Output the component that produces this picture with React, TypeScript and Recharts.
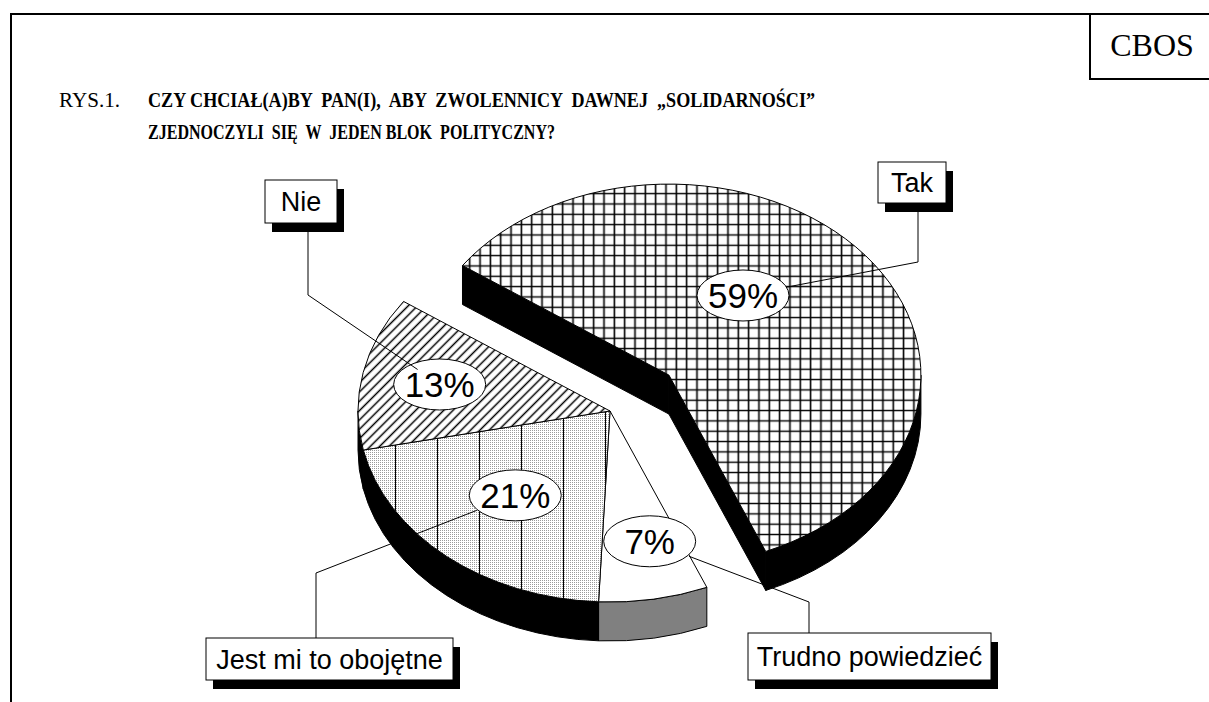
import { PieChart, Pie } from 'recharts';

// survey answers, clockwise from the upper-left edge of "Tak"
const categories = ['Tak', 'Trudno powiedzieć', 'Jest mi to obojętne', 'Nie'];
const shares = [59, 7, 21, 13];

const data = categories.map((name, i) => ({ name, value: shares[i] }));

const W = 1209;
const H = 702;
const SQUASH = 0.758; // ellipse height / width for the tilted pie
const DEPTH = 39; // thickness of the 3d pie

const explode: Record<string, number> = { Tak: 0.3 };

const topFill: Record<string, string> = {
  Tak: 'url(#grid)',
  'Trudno powiedzieć': '#ffffff',
  'Jest mi to obojętne': 'url(#dots)',
  Nie: 'url(#hatch)',
};

const sideFill: Record<string, string> = {
  Tak: '#000000',
  'Trudno powiedzieć': '#808080',
  'Jest mi to obojętne': '#000000',
  Nie: '#000000',
};

// where the percent bubble sits inside a slice (fraction of radius, angle shift)
const labelPlace: Record<string, { r: number; shift: number }> = {
  Tak: { r: 0.51, shift: 16 },
  'Trudno powiedzieć': { r: 0.7, shift: 3 },
  'Jest mi to obojętne': { r: 0.58, shift: 0 },
  Nie: { r: 0.69, shift: 0 },
};

// callout boxes: [x, y, w, h] and the elbow of the leader line
const callouts: Record<string, { box: number[]; elbow: number[] }> = {
  Tak: { box: [878, 162, 68, 41], elbow: [918, 262] },
  'Trudno powiedzieć': { box: [748, 633, 243, 47], elbow: [809, 602] },
  'Jest mi to obojętne': { box: [206, 638, 247, 42], elbow: [316, 573] },
  Nie: { box: [265, 180, 72, 43], elbow: [308, 295] },
};

const ARIAL = 'Arial, "Liberation Sans", Helvetica, sans-serif';
const TIMES = '"Times New Roman", "Liberation Serif", serif';

const rad = (a: number) => (a * Math.PI) / 180;

type Geom = { name: string; cx: number; cy: number; rx: number; ry: number; a1: number; a2: number; mid: number; ex: number };

function geom(p: any): Geom {
  const name = p.payload?.name ?? p.name;
  const rx = p.outerRadius;
  const ry = p.outerRadius * SQUASH;
  const mid = (p.startAngle + p.endAngle) / 2;
  const ex = explode[name] ?? 0;
  return {
    name,
    rx,
    ry,
    mid,
    ex,
    cx: p.cx + ex * rx * Math.cos(rad(mid)),
    cy: p.cy - ex * ry * Math.sin(rad(mid)),
    a1: Math.max(p.startAngle, p.endAngle),
    a2: Math.min(p.startAngle, p.endAngle),
  };
}

const at = (g: Geom, a: number, dy = 0) => [g.cx + g.rx * Math.cos(rad(a)), g.cy - g.ry * Math.sin(rad(a)) + dy];

// arc from angle a down to b (clockwise on screen)
const arcCw = (g: Geom, a: number, b: number, dy = 0) => {
  const [x, y] = at(g, b, dy);
  return `A ${g.rx} ${g.ry} 0 ${a - b > 180 ? 1 : 0} 1 ${x} ${y}`;
};
const arcCcw = (g: Geom, a: number, b: number, dy = 0) => {
  const [x, y] = at(g, a, dy);
  return `A ${g.rx} ${g.ry} 0 ${a - b > 180 ? 1 : 0} 0 ${x} ${y}`;
};

const renderSide = (p: any) => {
  const g = geom(p);
  const fill = sideFill[g.name];
  const parts: any[] = [];
  if (g.ex > 0) {
    const faces = [];
    if (Math.cos(rad(g.a1)) < 0) faces.push(g.a1);
    if (Math.cos(rad(g.a2)) > 0) faces.push(g.a2);
    faces.forEach((a) => {
      const [x, y] = at(g, a);
      parts.push(
        <path
          key={`f${a}`}
          d={`M ${g.cx} ${g.cy} L ${x} ${y} L ${x} ${y + DEPTH} L ${g.cx} ${g.cy + DEPTH} Z`}
          fill={fill}
          stroke="#000"
          strokeWidth={1}
        />
      );
    });
  }
  for (let k = -2; k <= 1; k++) {
    const lo = -180 + 360 * k;
    const hi = 360 * k;
    const s1 = Math.min(g.a1, hi);
    const s2 = Math.max(g.a2, lo);
    if (s1 - s2 > 0.01) {
      const [x1, y1] = at(g, s1);
      const [x2, y2] = at(g, s2, DEPTH);
      parts.push(
        <path
          key={`s${k}`}
          d={`M ${x1} ${y1} ${arcCw(g, s1, s2)} L ${x2} ${y2} ${arcCcw(g, s1, s2, DEPTH)} Z`}
          fill={fill}
          stroke="#000"
          strokeWidth={1}
        />
      );
    }
  }
  return <g>{parts}</g>;
};

const renderTop = (p: any) => {
  const g = geom(p);
  const [x1, y1] = at(g, g.a1);
  const d = `M ${g.cx} ${g.cy} L ${x1} ${y1} ${arcCw(g, g.a1, g.a2)} Z`;
  return (
    <g>
      <path d={d} fill={topFill[g.name]} stroke="none" />
      {g.name === 'Jest mi to obojętne' && <path d={d} fill="url(#vlines)" stroke="none" />}
      <path d={d} fill="none" stroke="#000" strokeWidth={1} strokeLinejoin="round" />
    </g>
  );
};

const renderNote = (p: any) => {
  const g = geom(p);
  const lp = labelPlace[g.name];
  const la = rad(g.mid + lp.shift);
  const lx = g.cx + lp.r * g.rx * Math.cos(la);
  const ly = g.cy - lp.r * g.ry * Math.sin(la);
  const c = callouts[g.name];
  const [bx, by, bw, bh] = c.box;
  const [ex, ey] = c.elbow;
  const edgeY = ey > by + bh ? by + bh : by;
  // leader stops at the text of the bubble
  const dx = ex - lx;
  const dy = ey - ly;
  const t = Math.min(44 / Math.abs(dx || 1e-6), 15 / Math.abs(dy || 1e-6));
  const sx = lx + dx * t;
  const sy = ly + dy * t;
  return (
    <g>
      <ellipse cx={lx} cy={ly} rx={46} ry={25.5} fill="#fff" stroke="#000" strokeWidth={1} />
      <text x={lx} y={ly + 13} textAnchor="middle" fontFamily={ARIAL} fontSize={35} fill="#000">
        {`${Math.round(p.percent * 100)}%`}
      </text>
      <polyline points={`${sx},${sy} ${ex},${ey} ${ex},${edgeY}`} fill="none" stroke="#000" strokeWidth={1} />
      <rect x={bx + 7} y={by + 9} width={bw} height={bh} fill="#000" />
      <rect x={bx} y={by} width={bw} height={bh} fill="#fff" stroke="#000" strokeWidth={1} />
      <text x={bx + bw / 2} y={by + bh / 2 + 9.5} textAnchor="middle" fontFamily={ARIAL} fontSize={27} fill="#000">
        {g.name}
      </text>
    </g>
  );
};

const pieProps = {
  data,
  dataKey: 'value',
  nameKey: 'name',
  cx: 610,
  cy: 411,
  innerRadius: 0,
  outerRadius: 252,
  startAngle: 145,
  endAngle: -215,
  fill: 'none',
  stroke: 'none',
  labelLine: false,
  isAnimationActive: false,
};

export default function App() {
  return (
    <div style={{ position: 'absolute', left: 0, top: 0, width: W, height: H, background: '#fff' }}>
      <svg width={W} height={H} style={{ position: 'absolute', left: 0, top: 0 }}>
        <path d={`M 11 ${H} V 14 H ${W}`} fill="none" stroke="#000" strokeWidth={2} />
        <path d={`M 1090 14 V 79 H ${W}`} fill="none" stroke="#000" strokeWidth={2} />
        <text x={1152} y={56} textAnchor="middle" fontFamily={TIMES} fontSize={32} fill="#000">
          CBOS
        </text>
        <text x={59} y={107} fontFamily={TIMES} fontSize={21} fill="#000" textLength={61} lengthAdjust="spacingAndGlyphs">
          RYS.1.
        </text>
        <text
          x={148}
          y={107}
          fontFamily={TIMES}
          fontSize={21}
          fontWeight="bold"
          fill="#000"
          style={{ whiteSpace: 'pre' }}
          textLength={667}
          lengthAdjust="spacingAndGlyphs"
        >
          {'CZY CHCIAŁ(A)BY  PAN(I),  ABY  ZWOLENNICY  DAWNEJ  „SOLIDARNOŚCI”'}
        </text>
        <text
          x={148}
          y={139}
          fontFamily={TIMES}
          fontSize={21}
          fontWeight="bold"
          fill="#000"
          style={{ whiteSpace: 'pre' }}
          textLength={407}
          lengthAdjust="spacingAndGlyphs"
        >
          {'ZJEDNOCZYLI  SIĘ  W  JEDEN BLOK  POLITYCZNY?'}
        </text>
      </svg>
      <div style={{ position: 'absolute', left: 0, top: 0 }}>
        <PieChart width={W} height={H} margin={{ top: 0, right: 0, bottom: 0, left: 0 }}>
          <defs>
            <pattern id="grid" patternUnits="userSpaceOnUse" x={753.8} y={229.8} width={10.33} height={10.33}>
              <rect width={10.33} height={10.33} fill="#fff" />
              <path d="M 5.165 0 V 10.33 M 0 5.165 H 10.33" stroke="#000" strokeWidth={1.6} />
            </pattern>
            <pattern id="hatch" patternUnits="userSpaceOnUse" width={6.6} height={6.6} patternTransform="rotate(45)">
              <rect width={6.6} height={6.6} fill="#fff" />
              <line x1={3.3} y1={0} x2={3.3} y2={6.6} stroke="#000" strokeWidth={1.5} />
            </pattern>
            <pattern id="dots" patternUnits="userSpaceOnUse" width={2} height={2}>
              <rect width={2} height={2} fill="#fff" />
              <rect width={1} height={1} fill="#9a9a9a" />
            </pattern>
            <pattern id="vlines" patternUnits="userSpaceOnUse" x={395} y={0} width={42} height={10}>
              <line x1={0.5} y1={0} x2={0.5} y2={10} stroke="#000" strokeWidth={1} />
            </pattern>
          </defs>
          <Pie {...pieProps} label={renderSide} />
          <Pie {...pieProps} label={renderTop} />
          <Pie {...pieProps} label={renderNote} />
        </PieChart>
      </div>
    </div>
  );
}
